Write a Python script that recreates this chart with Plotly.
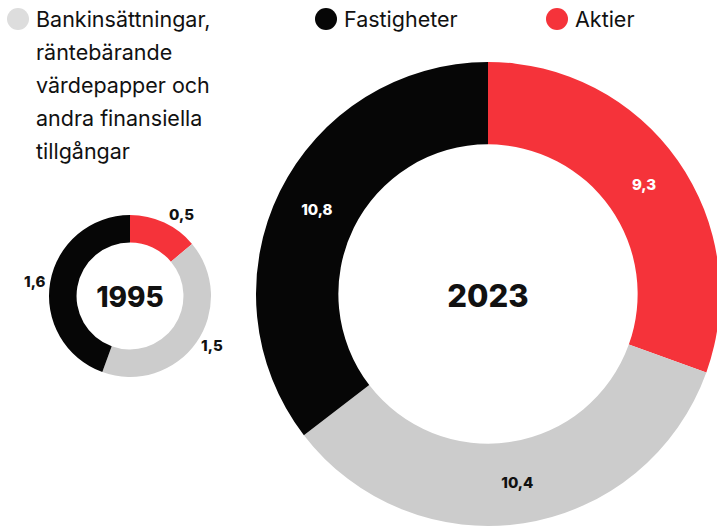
import plotly.graph_objects as go

categories = ["Aktier", "Bankinsättningar, räntebärande värdepapper och andra finansiella tillgångar", "Fastigheter"]
years = ["1995", "2023"]
values_1995 = [0.5, 1.5, 1.6]
values_2023 = [9.3, 10.4, 10.8]
labels_1995 = ["0,5", "1,5", "1,6"]
labels_2023 = ["9,3", "10,4", "10,8"]
legend_lines = ["Bankinsättningar,", "räntebärande", "värdepapper och", "andra finansiella", "tillgångar"]

RED = "#f5333a"
GRAY = "#cccccc"
BLACK = "#060606"
colors = [RED, GRAY, BLACK]
FONT = "Inter"

W, H = 722, 529

def dom_x(cx, r):
    return [(cx - r) / W, min(1.0, (cx + r) / W)]

def dom_y(cy, r):
    return [(H - cy - r) / H, (H - cy + r) / H]

fig = go.Figure()

fig.add_trace(go.Pie(
    values=values_1995, labels=categories, text=labels_1995,
    textinfo="text", textposition="outside",
    sort=False, direction="clockwise", rotation=0, hole=0.66,
    marker=dict(colors=colors, line=dict(width=0)),
    textfont=dict(family=FONT, size=15, color="#111111", weight=800),
    domain=dict(x=dom_x(130, 81), y=dom_y(296, 81)),
    title=dict(text=years[0], position="middle center",
               font=dict(family=FONT, size=28, color="#111111", weight=800)),
    showlegend=False, hoverinfo="label+value",
))

fig.add_trace(go.Pie(
    values=values_2023, labels=categories, text=labels_2023,
    textinfo="text", textposition="inside", insidetextorientation="horizontal",
    sort=False, direction="clockwise", rotation=0, hole=0.645,
    marker=dict(colors=colors, line=dict(width=0)),
    textfont=dict(family=FONT, size=15, color=["#ffffff", "#111111", "#ffffff"], weight=800),
    domain=dict(x=dom_x(488, 232), y=dom_y(294, 232)),
    title=dict(text=years[1], position="middle center",
               font=dict(family=FONT, size=31, color="#111111", weight=800)),
    showlegend=False, hoverinfo="label+value",
))

# Legend drawn manually
shapes = []
annotations = []
legend_items = [
    (18, "#dddddd", legend_lines),
    (326, BLACK, [categories[2]]),
    (557, RED, [categories[0]]),
]
for cx, col, lines in legend_items:
    shapes.append(dict(type="circle", xref="paper", yref="paper",
                       x0=(cx - 11) / W, x1=(cx + 11) / W,
                       y0=(H - 19 - 11) / H, y1=(H - 19 + 11) / H,
                       fillcolor=col, line=dict(width=0)))
    for i, ln in enumerate(lines):
        annotations.append(dict(text=ln, xref="paper", yref="paper",
                                x=(cx + 16) / W, y=(H - 19 - 33 * i) / H,
                                xanchor="left", yanchor="middle", showarrow=False,
                                font=dict(family=FONT, size=21.5, color="#111111")))

fig.update_layout(
    width=W, height=H,
    margin=dict(l=0, r=0, t=0, b=0),
    paper_bgcolor="white", plot_bgcolor="white",
    shapes=shapes, annotations=annotations,
)

fig.write_html("out.html", config={"displayModeBar": False},
               post_script="document.body.style.margin='0';document.body.style.overflow='hidden';")
